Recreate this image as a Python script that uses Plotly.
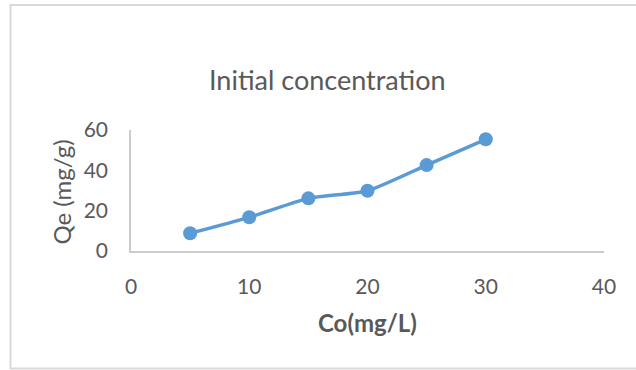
import plotly.graph_objects as go

co = [5, 10, 15, 20, 25, 30]
qe = [8.8, 16.7, 26.1, 29.9, 42.6, 55.4]
x_ticks = [0, 10, 20, 30, 40]
y_ticks = [0, 20, 40, 60]

TXT = "#595959"
FONT = "Lato"

fig = go.Figure()
fig.add_trace(go.Scatter(
    x=co, y=qe, mode="lines+markers",
    line=dict(color="#5B9BD5", width=3.5, shape="spline", smoothing=0.6),
    marker=dict(color="#5B9BD5", size=14),
    showlegend=False, cliponaxis=False,
))

fig.update_layout(
    width=636, height=370,
    margin=dict(l=131, r=32, t=130, b=119),
    paper_bgcolor="white", plot_bgcolor="white",
    font=dict(family=FONT, color=TXT),
    shapes=[dict(type="rect", xref="paper", yref="paper",
                 x0=(10.5-131)/473, x1=(645-131)/473, y0=(251-368.5)/121, y1=(251-5)/121,
                 line=dict(color="#D9D9D9", width=2), fillcolor="rgba(0,0,0,0)",
                 layer="below")],
    annotations=[
        dict(text="Initial concentration", xref="paper", yref="paper",
             x=(327.5-131)/473, y=(251-79)/121, showarrow=False,
             xanchor="center", yanchor="middle", font=dict(size=27, color=TXT, family=FONT)),
        dict(text="<b>Co(mg/L)</b>", xref="paper", yref="paper",
             x=(367.5-131)/473, y=(251-322)/121, showarrow=False,
             xanchor="center", yanchor="middle", font=dict(size=24, color=TXT, family=FONT)),
        dict(text="Qe (mg/g)", xref="paper", yref="paper", textangle=-90,
             x=(61-131)/473, y=(251-192.5)/121, showarrow=False,
             xanchor="center", yanchor="middle", font=dict(size=24, color=TXT, family=FONT)),
    ],
)
fig.update_xaxes(range=[0, 40], tickvals=x_ticks, showgrid=False, zeroline=False,
                 showline=True, linecolor="#CCCCCC", linewidth=1.5,
                 ticks="", ticklabelstandoff=16, tickfont=dict(size=21, color=TXT))
fig.update_yaxes(range=[0, 60], tickvals=y_ticks, showgrid=False, zeroline=False,
                 showline=True, linecolor="#CCCCCC", linewidth=1.5,
                 ticks="", ticklabelstandoff=17, tickfont=dict(size=21, color=TXT))

fig.write_html("out.html")
